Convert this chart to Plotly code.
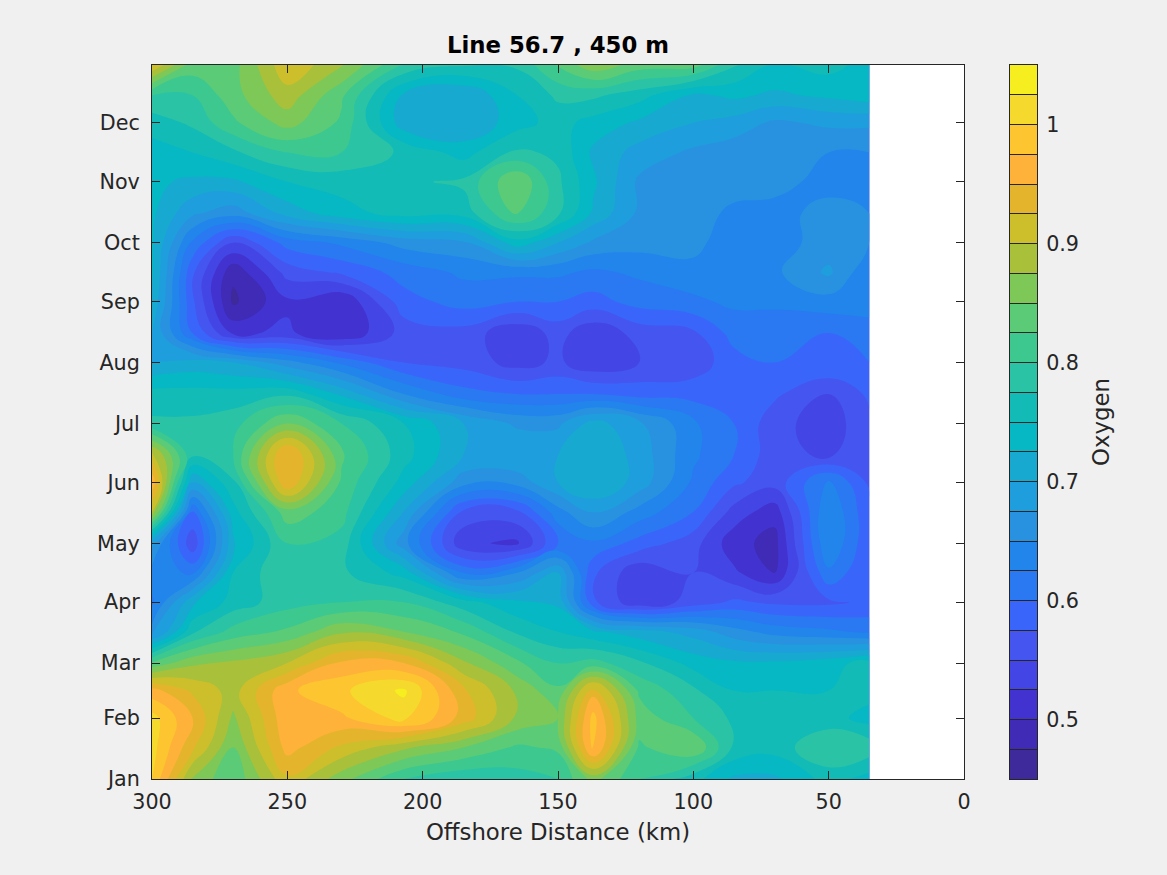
import plotly.graph_objects as go

FONT = "DejaVu Sans"
TEXT_COLOR = "#262626"
PAPER = "#F0F0F0"
PLOT_W = 885  # main axes plus colour bar, between the margins

distance_km = [300, 285, 270, 250, 230, 207, 185, 165, 150, 137, 120, 100, 85, 70, 50, 35]
day_of_year = [1, 17, 32, 46, 60, 76, 91, 106, 121, 137, 152, 166, 182, 197, 213, 228, 244,
               259, 274, 289, 305, 320, 335, 349, 365]

month_days = [1, 32, 60, 91, 121, 152, 182, 213, 244, 274, 305, 335]
month_names = ["Jan", "Feb", "Mar", "Apr", "May", "Jun", "Jul", "Aug", "Sep", "Oct", "Nov", "Dec"]

# oxygen, one row per day_of_year
oxygen = [
    [1.0, .87, .83, .92, .86, .80, .78, .79, .80, .86, .80, .76, .72, .72, .76, .74],
    [1.01, .93, .85, .96, .92, .88, .85, .82, .83, .985, .82, .85, .77, .76, .80, .79],
    [1.01, .95, .87, .97, .97, 1.01, .94, .87, .85, .985, .84, .80, .77, .76, .76, .74],
    [.96, .92, .89, .97, .995, 1.03, .93, .87, .83, .94, .82, .78, .75, .75, .75, .76],
    [.83, .87, .88, .90, .955, .95, .88, .83, .80, .81, .78, .74, .73, .73, .74, .76],
    [.66, .77, .81, .83, .87, .85, .82, .77, .75, .73, .71, .69, .66, .64, .63, .62],
    [.62, .72, .76, .79, .80, .80, .76, .73, .72, .58, .53, .56, .58, .57, .57, .58],
    [.64, .62, .75, .80, .78, .74, .62, .65, .70, .58, .53, .55, .53, .50, .62, .575],
    [.68, .555, .72, .80, .79, .66, .53, .52, .60, .62, .59, .56, .51, .49, .65, .58],
    [.90, .60, .74, .84, .81, .70, .57, .57, .64, .68, .64, .60, .54, .51, .65, .58],
    [.97, .70, .77, .95, .82, .74, .66, .66, .70, .725, .69, .62, .58, .56, .63, .57],
    [.91, .78, .80, .96, .83, .76, .70, .70, .70, .725, .69, .63, .60, .56, .545, .57],
    [.78, .78, .79, .85, .80, .75, .70, .67, .67, .71, .68, .63, .60, .56, .535, .57],
    [.76, .76, .76, .77, .72, .65, .61, .60, .60, .60, .59, .59, .585, .58, .55, .58],
    [.70, .71, .70, .66, .62, .575, .565, .54, .555, .53, .55, .56, .59, .60, .60, .60],
    [.70, .60, .52, .53, .50, .56, .565, .53, .56, .53, .56, .57, .61, .61, .60, .62],
    [.72, .58, .47, .52, .50, .59, .61, .60, .60, .59, .61, .62, .63, .63, .64, .63],
    [.73, .58, .48, .56, .58, .61, .63, .63, .63, .62, .63, .64, .63, .645, .68, .63],
    [.73, .62, .55, .61, .63, .66, .67, .74, .70, .67, .66, .66, .63, .64, .66, .65],
    [.73, .68, .66, .71, .74, .76, .76, .83, .78, .72, .67, .67, .64, .64, .66, .65],
    [.73, .72, .72, .75, .76, .77, .78, .85, .78, .73, .67, .67, .67, .66, .64, .63],
    [.74, .75, .77, .80, .80, .77, .74, .78, .77, .72, .69, .67, .66, .66, .65, .65],
    [.76, .78, .82, .86, .82, .71, .70, .74, .76, .74, .72, .70, .69, .67, .68, .68],
    [.80, .80, .84, .89, .83, .72, .70, .75, .78, .78, .76, .72, .73, .72, .73, .74],
    [.93, .84, .84, .92, .88, .80, .78, .78, .83, .87, .84, .84, .78, .75, .76, .74],
]

# one colour per band, lowest band first
band_colors = ["#3E2A9A", "#3F2BB5", "#4233D0", "#4445E5", "#4555F0", "#3A65FB", "#2A78F2", "#2185EC",
               "#2892E0", "#1F9EDD", "#17A9D0", "#05B8C4", "#13BBB6", "#2BC3A5", "#3CC88F", "#5BCB78",
               "#7DC856", "#A9C03A", "#CDBF2B", "#E5B42D", "#FEB239", "#FDC52F", "#F5DA2D", "#F6EE1F"]
band_edges = [0.45 + 0.025 * i for i in range(len(band_colors) + 1)]
band_index = [[i] for i in range(len(band_colors))]
colorscale = [[i / (len(band_colors) - 1), c] for i, c in enumerate(band_colors)]

fig = go.Figure()
fig.add_trace(go.Contour(
    x=distance_km, y=day_of_year, z=oxygen,
    colorscale=colorscale, showscale=False,
    autocontour=False,
    contours=dict(start=0.475, end=1.025, size=0.025, coloring="fill", showlines=False),
    line=dict(width=0, smoothing=1.3),
))
# colour bar, one cell per contour band
fig.add_trace(go.Heatmap(
    x=[0, 1], y=band_edges, z=band_index,
    colorscale=colorscale, showscale=False, hoverinfo="skip",
    xaxis="x2", yaxis="y2",
))

axis_line = dict(showline=True, linecolor=TEXT_COLOR, linewidth=1, showgrid=False, zeroline=False)
fig.update_layout(
    width=1167, height=875, autosize=False,
    paper_bgcolor=PAPER, plot_bgcolor="white",
    margin=dict(l=152, r=130, t=65, b=96),
    font=dict(family=FONT, color=TEXT_COLOR),
    title=dict(text="<b>Line 56.7 , 450 m</b>", x=558 / 1167, xanchor="center", y=1 - 45 / 875, yanchor="middle",
               font=dict(family=FONT, size=22.8, color="black")),
    xaxis=dict(
        domain=[0, 812 / PLOT_W], range=[300, 0], tickvals=[300, 250, 200, 150, 100, 50, 0],
        ticks="inside", ticklen=8, tickcolor=TEXT_COLOR, mirror="ticks", ticklabelstandoff=4,
        tickfont=dict(family=FONT, size=20.7, color=TEXT_COLOR),
        title=dict(text="Offshore Distance (km)", font=dict(family=FONT, size=22.8, color=TEXT_COLOR), standoff=11),
        **axis_line,
    ),
    yaxis=dict(
        domain=[0, 1], range=[1, 364.5], tickvals=month_days, ticktext=month_names,
        ticks="inside", ticklen=8, tickcolor=TEXT_COLOR, mirror="ticks", ticklabelstandoff=7,
        tickfont=dict(family=FONT, size=20.7, color=TEXT_COLOR),
        **axis_line,
    ),
    xaxis2=dict(domain=[858 / PLOT_W, 1], range=[0, 1], anchor="y2", showticklabels=False, ticks="",
                mirror=True, **axis_line),
    yaxis2=dict(
        domain=[0, 1], range=[0.45, 1.05], anchor="x2", side="right", mirror=True,
        tickvals=[0.5, 0.6, 0.7, 0.8, 0.9, 1.0], ticktext=["0.5", "0.6", "0.7", "0.8", "0.9", "1"],
        ticks="inside", ticklen=27, tickcolor=TEXT_COLOR,
        minor=dict(ticks="inside", ticklen=27, tick0=0.45, dtick=0.025, tickcolor=TEXT_COLOR, showgrid=False),
        ticklabelstandoff=4,
        tickfont=dict(family=FONT, size=20.7, color=TEXT_COLOR),
        title=dict(text="Oxygen", font=dict(family=FONT, size=22.8, color=TEXT_COLOR), standoff=14),
        **axis_line,
    ),
)

fig.write_html("out.html", config={"displayModeBar": False},
               post_script="document.body.style.margin='0';document.body.style.background='#F0F0F0';")
